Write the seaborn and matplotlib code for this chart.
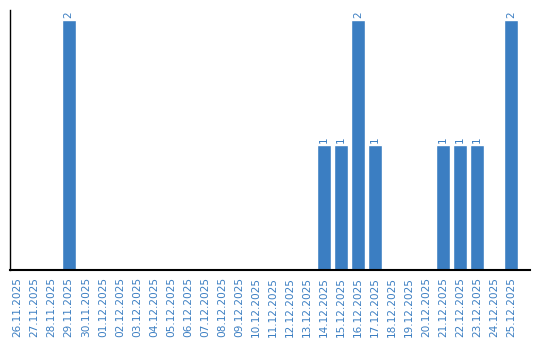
import matplotlib
matplotlib.use("Agg")
import matplotlib.pyplot as plt
import seaborn as sns
import pandas as pd

dates = ["26.11.2025", "27.11.2025", "28.11.2025", "29.11.2025", "30.11.2025",
         "01.12.2025", "02.12.2025", "03.12.2025", "04.12.2025", "05.12.2025",
         "06.12.2025", "07.12.2025", "08.12.2025", "09.12.2025", "10.12.2025",
         "11.12.2025", "12.12.2025", "13.12.2025", "14.12.2025", "15.12.2025",
         "16.12.2025", "17.12.2025", "18.12.2025", "19.12.2025", "20.12.2025",
         "21.12.2025", "22.12.2025", "23.12.2025", "24.12.2025", "25.12.2025"]
counts = [0, 0, 0, 2, 0,
          0, 0, 0, 0, 0,
          0, 0, 0, 0, 0,
          0, 0, 0, 1, 1,
          2, 1, 0, 0, 0,
          1, 1, 1, 0, 2]

df = pd.DataFrame({"date": dates, "count": counts})
bar_color = "#3b7ec2"
text_color = "#3b7ec2"

sns.set_style("white")
fig = plt.figure(figsize=(5.4, 3.4), dpi=100)
ax = fig.add_axes([10/540, 70/340, 520/540, 260/340])
sns.barplot(data=df, x="date", y="count", color=bar_color, width=0.84,
            saturation=1, ax=ax)

for i, v in enumerate(counts):
    if v > 0:
        ax.text(i, v + 0.02, str(v), rotation=90, ha="center", va="bottom",
                fontsize=7.5, color=text_color)

ax.set_xlim(-0.45, 30.1)
ax.set_ylim(0, 2.08)
ax.set_xlabel("")
ax.set_ylabel("")
ax.set_yticks([])
ax.tick_params(axis="x", length=0, pad=5, labelsize=7.6, labelcolor=text_color)
plt.setp(ax.get_xticklabels(), rotation=90)
for s in ["top", "right"]:
    ax.spines[s].set_visible(False)
ax.spines["left"].set_color("black")
ax.spines["left"].set_linewidth(1.0)
ax.spines["bottom"].set_color("black")
ax.spines["bottom"].set_linewidth(1.5)

fig.savefig("out.png", dpi=100)
